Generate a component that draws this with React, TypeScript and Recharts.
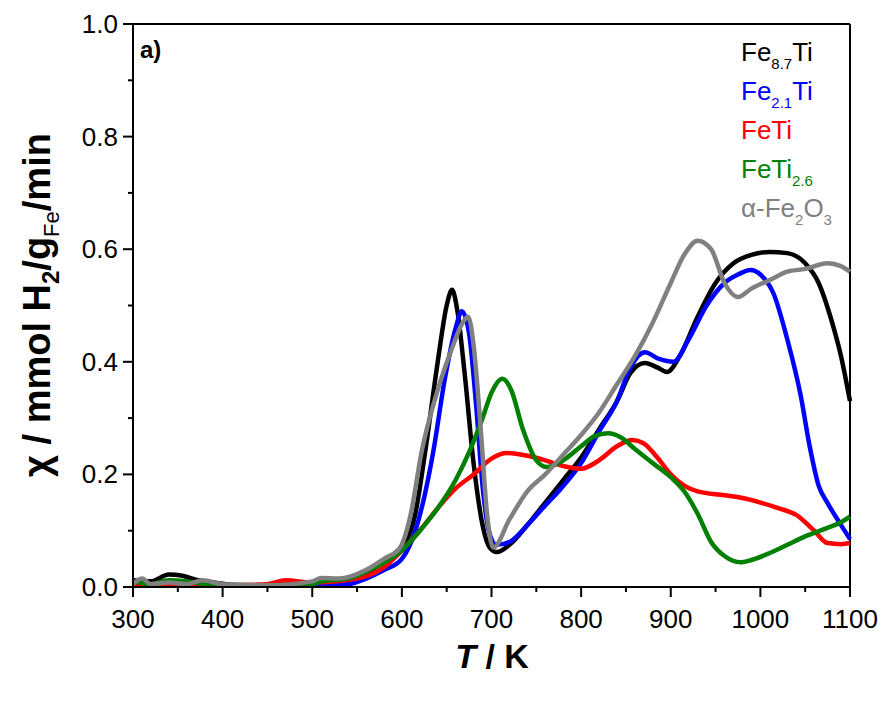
import React from "react";
import { LineChart, Line, XAxis, YAxis, ReferenceLine, Legend } from "recharts";

// temperature (K) vs chi (mmol H2 / g_Fe / min)
const fe87Ti = [
  [300, 0.012], [320, 0.01], [340, 0.022], [355, 0.02], [370, 0.013], [390, 0.008], [410, 0.004],
  [450, 0.003], [500, 0.008], [520, 0.01], [540, 0.015], [560, 0.025], [580, 0.045], [600, 0.07],
  [615, 0.13], [626, 0.24], [640, 0.4], [650, 0.5], [656, 0.528], [662, 0.49], [670, 0.38],
  [680, 0.22], [690, 0.11], [698, 0.07], [706, 0.062], [720, 0.075], [740, 0.11], [760, 0.15],
  [780, 0.19], [800, 0.23], [820, 0.28], [840, 0.33], [855, 0.38], [871, 0.398], [885, 0.39],
  [896, 0.382], [910, 0.41], [930, 0.48], [950, 0.54], [970, 0.575], [990, 0.59], [1010, 0.595],
  [1030, 0.593], [1050, 0.575], [1065, 0.54], [1080, 0.47], [1090, 0.41], [1100, 0.33],
];

const fe21Ti = [
  [300, 0.005], [400, 0.003], [500, 0.003], [540, 0.005], [560, 0.015], [580, 0.03], [600, 0.05],
  [615, 0.1], [625, 0.16], [635, 0.24], [648, 0.37], [660, 0.46], [667, 0.49], [675, 0.45],
  [683, 0.32], [690, 0.18], [697, 0.1], [705, 0.075], [720, 0.08], [740, 0.11], [760, 0.145],
  [776, 0.172], [800, 0.22], [821, 0.279], [840, 0.33], [855, 0.39], [871, 0.417], [887, 0.405],
  [903, 0.4], [920, 0.44], [940, 0.5], [960, 0.54], [975, 0.555], [989, 0.563], [1000, 0.555],
  [1015, 0.52], [1030, 0.44], [1045, 0.34], [1055, 0.25], [1065, 0.18], [1075, 0.149],
  [1090, 0.11], [1100, 0.085],
];

const feTi = [
  [300, 0.005], [350, 0.003], [400, 0.003], [450, 0.005], [470, 0.012], [500, 0.008], [550, 0.015],
  [580, 0.035], [600, 0.065], [620, 0.1], [640, 0.14], [660, 0.175], [680, 0.2], [700, 0.228],
  [717, 0.238], [740, 0.233], [760, 0.225], [780, 0.215], [800, 0.21], [820, 0.225], [840, 0.25],
  [857, 0.261], [870, 0.255], [885, 0.23], [900, 0.2], [915, 0.18], [930, 0.17], [960, 0.163],
  [980, 0.158], [1000, 0.15], [1020, 0.14], [1040, 0.128], [1060, 0.1], [1075, 0.078],
  [1090, 0.076], [1100, 0.078],
];

const feTi26 = [
  [300, 0.01], [320, 0.005], [340, 0.012], [360, 0.01], [380, 0.005], [400, 0.003], [450, 0.003],
  [500, 0.005], [510, 0.01], [540, 0.015], [570, 0.035], [600, 0.065], [620, 0.1], [640, 0.14],
  [660, 0.19], [676, 0.243], [690, 0.3], [700, 0.345], [712, 0.37], [722, 0.35], [735, 0.28],
  [750, 0.225], [762, 0.213], [780, 0.225], [800, 0.25], [815, 0.268], [830, 0.273], [845, 0.265],
  [860, 0.245], [880, 0.22], [900, 0.195], [915, 0.17], [930, 0.13], [945, 0.08], [960, 0.055],
  [978, 0.044], [990, 0.048], [1010, 0.06], [1030, 0.075], [1050, 0.09], [1075, 0.105],
  [1090, 0.115], [1100, 0.125],
];

const fe2o3 = [
  [300, 0.005], [310, 0.015], [320, 0.005], [340, 0.008], [360, 0.005], [378, 0.012], [400, 0.005],
  [450, 0.003], [500, 0.01], [510, 0.016], [530, 0.015], [560, 0.03], [580, 0.05], [598, 0.07],
  [610, 0.13], [622, 0.24], [640, 0.35], [655, 0.42], [668, 0.47], [674, 0.48], [680, 0.43],
  [688, 0.28], [695, 0.13], [702, 0.07], [720, 0.12], [740, 0.17], [760, 0.2], [780, 0.235],
  [800, 0.27], [820, 0.31], [840, 0.36], [860, 0.41], [880, 0.47], [900, 0.54], [915, 0.59],
  [930, 0.615], [945, 0.6], [960, 0.54], [975, 0.515], [990, 0.53], [1010, 0.545], [1030, 0.56],
  [1050, 0.565], [1075, 0.575], [1090, 0.57], [1100, 0.56],
];

const xTicks = [300, 350, 400, 450, 500, 550, 600, 650, 700, 750, 800, 850, 900, 950, 1000, 1050, 1100];
const yTicks = [0, 0.1, 0.2, 0.3, 0.4, 0.5, 0.6, 0.7, 0.8, 0.9, 1.0];

const FONT = "'Liberation Sans', Arial, sans-serif";
const sub = (s: string) => <sub style={{ fontSize: 15, verticalAlign: -8, lineHeight: 0 }}>{s}</sub>;

const series = [
  { id: "fe87", color: "#000000", data: fe87Ti, label: <>Fe{sub("8.7")}Ti</> },
  { id: "fe21", color: "#0000ff", data: fe21Ti, label: <>Fe{sub("2.1")}Ti</> },
  { id: "feti", color: "#ff0000", data: feTi, label: <>FeTi</> },
  { id: "feti26", color: "#008000", data: feTi26, label: <>FeTi{sub("2.6")}</> },
  { id: "fe2o3", color: "#808080", data: fe2o3, label: <>α-Fe{sub("2")}O{sub("3")}</> },
];

function XTick(props: any) {
  const { x, y, payload } = props;
  const major = payload.value % 100 === 0;
  return (
    <g>
      <line x1={x} y1={y} x2={x} y2={y + (major ? 10 : 5)} stroke="#000" strokeWidth={2} />
      {major && (
        <text x={x} y={y + 41} textAnchor="middle" fontSize={26} fontFamily={FONT} fill="#000">
          {payload.value}
        </text>
      )}
    </g>
  );
}

function YTick(props: any) {
  const { x, y, payload } = props;
  const major = Math.round(payload.value * 10) % 2 === 0;
  return (
    <g>
      <line x1={x - (major ? 10 : 5)} y1={y} x2={x} y2={y} stroke="#000" strokeWidth={2} />
      {major && (
        <text x={x - 15} y={y + 9} textAnchor="end" fontSize={26} fontFamily={FONT} fill="#000">
          {payload.value.toFixed(1)}
        </text>
      )}
    </g>
  );
}

function renderLegend() {
  return (
    <div style={{ fontFamily: FONT, fontSize: 26, lineHeight: "39px" }}>
      {series.map((s) => (
        <div key={s.id} style={{ color: s.color, whiteSpace: "nowrap" }}>
          {s.label}
        </div>
      ))}
    </div>
  );
}

export default function App() {
  return (
    <LineChart width={880} height={693} margin={{ top: 16, right: 38, left: 0, bottom: 0 }}>
      <XAxis
        type="number"
        dataKey="t"
        domain={[300, 1100]}
        ticks={xTicks}
        allowDuplicatedCategory={false}
        height={114}
        tickSize={0}
        tickMargin={0}
        tick={<XTick />}
        axisLine={{ stroke: "#000", strokeWidth: 2 }}
        label={{
          content: () => (
            <text x={484} y={660} textAnchor="middle" fontFamily={FONT} fontWeight="bold" fontSize={34} fill="#000">
              <tspan fontStyle="italic">T</tspan> / K
            </text>
          ),
        }}
      />
      <YAxis
        type="number"
        domain={[0, 1]}
        ticks={yTicks}
        width={125}
        tickSize={0}
        tickMargin={0}
        tick={<YTick />}
        axisLine={{ stroke: "#000", strokeWidth: 2 }}
        label={{
          content: () => (
            <text
              transform="translate(42, 297) rotate(-90)"
              textAnchor="middle"
              fontFamily={FONT}
              fontWeight="bold"
              fontSize={38}
              fill="#000"
            >
              χ / mmol H<tspan fontSize={24} dy={9}>2</tspan>
              <tspan dy={-9}>/g</tspan>
              <tspan fontSize={22} dy={9} fontWeight="normal">Fe</tspan>
              <tspan dy={-9}>/min</tspan>
            </text>
          ),
        }}
      />
      <ReferenceLine y={1} stroke="#000" strokeWidth={2} />
      <ReferenceLine x={1100} stroke="#000" strokeWidth={2} />
      <ReferenceLine
        y={1}
        stroke="none"
        label={{
          content: () => (
            <text x={132} y={50} fontFamily={FONT} fontWeight="bold" fontSize={24} fill="#000">
              a)
            </text>
          ),
        }}
      />
      <Legend
        layout="vertical"
        align="center"
        verticalAlign="middle"
        content={renderLegend}
        wrapperStyle={{ top: 25, left: 733, width: "auto" }}
      />
      {series.map((s) => (
        <Line
          key={s.id}
          data={s.data.map(([t, v]) => ({ t, v }))}
          dataKey="v"
          type="monotone"
          stroke={s.color}
          strokeWidth={4.5}
          dot={false}
          isAnimationActive={false}
          legendType="none"
        />
      ))}
    </LineChart>
  );
}
